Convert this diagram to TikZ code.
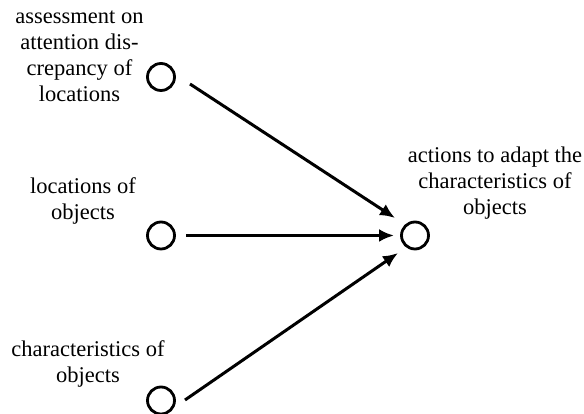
\documentclass[tikz,border=0pt]{standalone}
\usepackage{fontspec}
\setmainfont{Liberation Serif}
\usetikzlibrary{arrows.meta}
\begin{document}
\begin{tikzpicture}[x=1pt,y=1pt,
  every node/.style={inner sep=0pt, outer sep=0pt},
  state/.style={circle, draw, line width=2.8pt, minimum size=27pt},
  label text/.style={anchor=base, align=center, font=\fontsize{22.5}{26}\selectfont},
  flow/.style={line width=3pt, -{Latex[length=15pt,width=13pt]}}]
\useasboundingbox (0,0) rectangle (584,414);

% input states
\node[state] (c1) at (161,337) {};
\node[state] (c2) at (161,178.5) {};
\node[state] (c3) at (161,13.5) {};
% output state
\node[state] (t) at (415,178.5) {};

% labels (base anchor sits on the last line)
\node[label text] (l1) at (79.5,312) {assessment on\\attention dis-\\crepancy of\\locations};
\node[label text] (l2) at (83,194) {locations of\\objects};
\node[label text] (l3) at (88,31) {characteristics of\\objects};
\node[label text] (lt) at (495,199) {actions to adapt the\\characteristics of\\objects};

% influences
\draw[flow] ([shift={(29pt,-7pt)}]c1.center) -- ([shift={(-20pt,17.5pt)}]t.center);
\draw[flow] ([shift={(25pt,0pt)}]c2.center) -- ([shift={(-21pt,0pt)}]t.center);
\draw[flow] ([shift={(24pt,0.5pt)}]c3.center) -- ([shift={(-17pt,-17.5pt)}]t.center);
\end{tikzpicture}
\end{document}
